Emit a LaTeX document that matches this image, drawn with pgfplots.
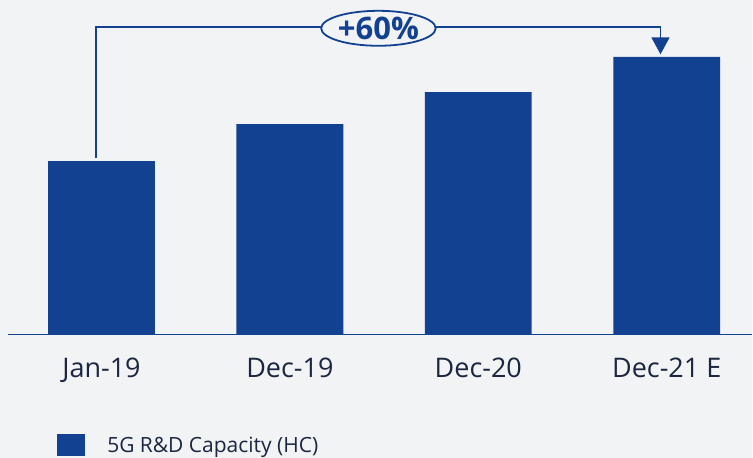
\documentclass[border=0pt]{standalone}
\usepackage{pgfplots}
\pgfplotsset{compat=1.18}
\usetikzlibrary{shapes.geometric,arrows.meta}
\usepackage{fontspec}
\setmainfont{Open Sans}
\definecolor{bg}{HTML}{F2F3F5}
\definecolor{barblue}{HTML}{124191}
\definecolor{txt}{HTML}{1B2640}
\begin{document}
\begin{tikzpicture}
\fill[bg] (0,0) rectangle (753bp,458bp);
\begin{axis}[
  at={(8bp,123bp)}, anchor=south west,
  scale only axis, width=745bp, height=335bp,
  xmin=-0.496, xmax=3.454, ymin=0, ymax=192.8,
  axis x line*=bottom, axis y line=none,
  x axis line style={barblue, line width=1.5bp, -},
  xtick=data, xticklabels={Jan-19,Dec-19,Dec-20,Dec-21 E},
  major tick length=0pt,
  xticklabel style={font=\fontsize{27bp}{30bp}\selectfont, text=txt, yshift=-20bp},
  ytick=\empty,
  clip=false,
  legend style={at={(0.066,-0.33)}, anchor=west, draw=none, fill=none,
    font=\fontsize{21bp}{24bp}\selectfont, text=txt, inner sep=0pt,
    /tikz/every even column/.append style={column sep=0pt}},
  legend image code/.code={\fill[barblue] (0bp,-11bp) rectangle (28bp,11bp);},
  legend cell align=left,
]
\addplot[ybar, bar width=107bp, fill=barblue, draw=none, bar shift=0pt]
  coordinates {(0,100) (1,121.3) (2,139.7) (3,160)};
\addlegendentry{\hspace{20bp}5G R\&D Capacity (HC)}
\draw[barblue, line width=1.6bp, -{Triangle[width=18bp,length=17bp]}] (axis cs:-0.03,101.7) -- (axis cs:-0.03,177.3) -- (axis cs:2.967,177.3) -- (axis cs:2.967,161.5);
\node[ellipse, draw=barblue, line width=1.8bp, fill=bg, minimum width=104bp, minimum height=35bp, inner sep=0pt, text=barblue, font=\fontsize{31bp}{33bp}\selectfont\bfseries] at (axis cs:1.47,176.5) {+60\%};
\end{axis}
\end{tikzpicture}
\end{document}
